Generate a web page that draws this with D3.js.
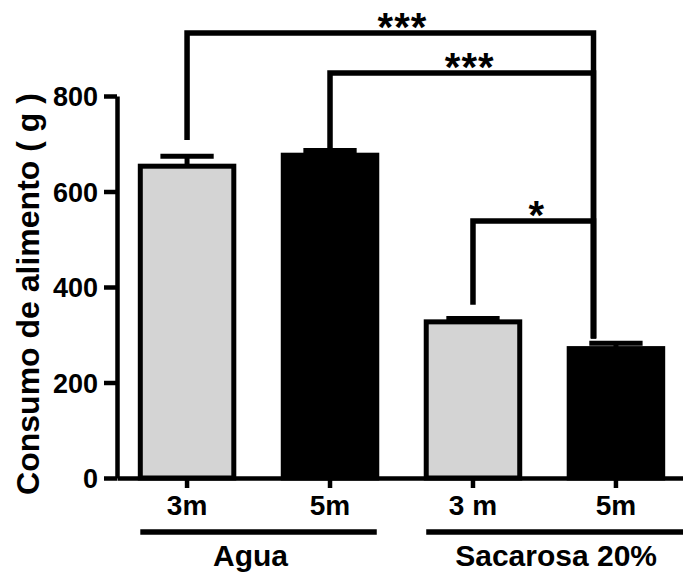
<!DOCTYPE html>
<html>
<head>
<meta charset="utf-8">
<script src="https://cdn.jsdelivr.net/npm/d3@7"></script>
<style>
    body { margin: 0; background: #fff; }
    text { font-family: Arial, "Liberation Sans", sans-serif; font-weight: bold; fill: #000; }
</style>
</head>
<body>
<div id="graph"></div>
<script>

// bar ids, their tick labels and which group they belong to
const barIds = ['agua3', 'agua5', 'sac3', 'sac5'];
const barLabels = ['3m', '5m', '3 m', '5m'];
const barGroups = ['Agua', 'Agua', 'Sacarosa 20%', 'Sacarosa 20%'];
const barFills = ['#d4d4d4', '#000000', '#d4d4d4', '#000000'];

// mean and SEM (g)
const means = [653, 676, 327, 271];
const errors = [21, 10, 7, 11];

// y axis ticks
const yTicks = [0, 200, 400, 600, 800];

// significance brackets: left bar, level, left leg end, label (right leg shared)
const bracketFrom = ['agua3', 'agua5', 'sac3'];
const bracketLevel = [932, 848, 538];
const bracketLegEnd = [708, 690, 363];
const bracketLabels = ['***', '***', '*'];
const bracketTo = 'sac5';
const bracketRightEnd = 292;

const groups = ['Agua', 'Sacarosa 20%'];

const W = 683;
const H = 577;

const svg = d3.select('#graph')
    .append('svg')
    .attr('width', W)
    .attr('height', H);

const x = d3.scaleBand()
    .domain(barIds)
    .range([117, 686])
    .paddingInner(0.346)
    .paddingOuter(0.163);

const y = d3.scaleLinear()
    .domain([0, 800])
    .range([478, 96]);

const bw = x.bandwidth();
const cx = id => x(id) + bw / 2;

// bars
svg.append('g')
    .selectAll('rect')
    .data(barIds)
    .enter()
    .append('rect')
    .attr('x', d => x(d))
    .attr('y', (d, i) => y(means[i]))
    .attr('width', bw)
    .attr('height', (d, i) => y(0) - y(means[i]))
    .style('fill', (d, i) => barFills[i])
    .style('stroke', '#000')
    .style('stroke-width', 5);

// error bars (upper half only)
const err = svg.append('g').style('stroke', '#000').style('stroke-width', 5);
barIds.forEach((id, i) => {
    err.append('line')
        .attr('x1', cx(id)).attr('x2', cx(id))
        .attr('y1', y(means[i])).attr('y2', y(means[i] + errors[i]));
    err.append('line')
        .attr('x1', cx(id) - bw * 0.285).attr('x2', cx(id) + bw * 0.285)
        .attr('y1', y(means[i] + errors[i])).attr('y2', y(means[i] + errors[i]));
});

// y axis
const yAxis = svg.append('g')
    .attr('transform', 'translate(117, 0)')
    .call(d3.axisLeft(y).tickValues(yTicks).tickSize(13).tickSizeOuter(0).tickPadding(6));
yAxis.selectAll('path, line').style('stroke', '#000').style('stroke-width', 4.5);
yAxis.selectAll('text').style('font-size', '27px').attr('dy', '0.36em');

// x axis
const xAxis = svg.append('g')
    .attr('transform', 'translate(0, 478)')
    .call(d3.axisBottom(x).tickSize(10).tickSizeOuter(0).tickPadding(7)
        .tickFormat((d, i) => barLabels[i]));
xAxis.selectAll('path, line').style('stroke', '#000').style('stroke-width', 4.5);
xAxis.selectAll('text').style('font-size', '28px');

// group lines and labels
groups.forEach((g, gi) => {
    const ids = barIds.filter((d, i) => barGroups[i] === g);
    const x1 = x(ids[0]);
    const x2 = gi === groups.length - 1 ? x.range()[1] : x(ids[ids.length - 1]) + bw;
    svg.append('line')
        .attr('x1', x1).attr('x2', x2)
        .attr('y1', 532).attr('y2', 532)
        .style('stroke', '#000')
        .style('stroke-width', 5.5);
    svg.append('text')
        .attr('x', (x1 + x2) / 2 - (gi === 0 ? 8 : 0))
        .attr('y', 566)
        .attr('text-anchor', 'middle')
        .style('font-size', '30px')
        .text(g);
});

// y axis title
svg.append('text')
    .attr('transform', 'rotate(-90)')
    .attr('x', -294)
    .attr('y', 39)
    .attr('text-anchor', 'middle')
    .style('font-size', '32px')
    .text('Consumo de alimento ( g )');

// significance brackets
const rightX = x(bracketTo) + bw * 0.26;
const br = svg.append('g');
bracketFrom.forEach((id, i) => {
    const lx = cx(id);
    br.append('path')
        .attr('d', `M${lx},${y(bracketLegEnd[i])}V${y(bracketLevel[i])}H${rightX}V${y(bracketRightEnd)}`)
        .style('fill', 'none')
        .style('stroke', '#000')
        .style('stroke-width', 5.5);
    br.append('text')
        .attr('x', lx + (rightX - lx) * 0.53)
        .attr('y', y(bracketLevel[i]) + 8)
        .attr('text-anchor', 'middle')
        .style('font-size', '40px')
        .style('letter-spacing', '1px')
        .text(bracketLabels[i]);
});

</script>
</body>
</html>
